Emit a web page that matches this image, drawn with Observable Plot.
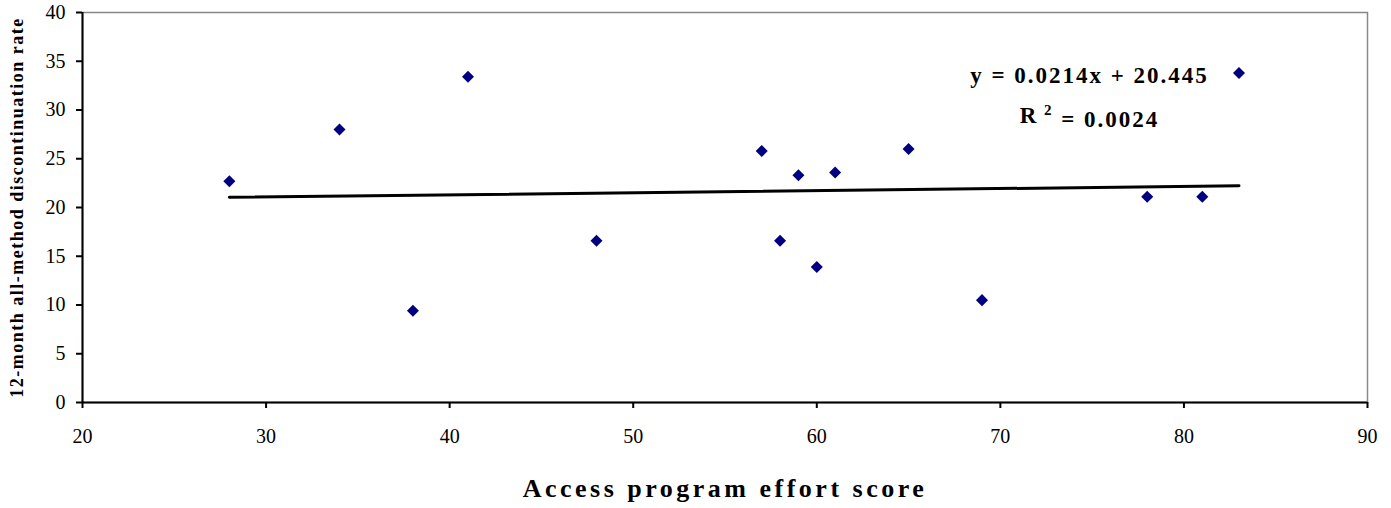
<!DOCTYPE html>
<html>
<head>
<meta charset="utf-8">
<script src="https://cdn.jsdelivr.net/npm/d3@7"></script>
<script src="https://cdn.jsdelivr.net/npm/@observablehq/plot@0.6"></script>
<style>
  html, body { margin: 0; padding: 0; background: #fff; }
  #chart svg { display: block; }
</style>
</head>
<body>
<div id="chart"></div>
<script>
// Data
const effortScore = [28, 34, 38, 41, 48, 57, 58, 59, 60, 61, 65, 69, 78, 81, 83];
const discontinuation = [22.7, 28.0, 9.4, 33.4, 16.6, 25.8, 16.6, 23.3, 13.9, 23.6, 26.0, 10.5, 21.1, 21.1, 33.8];
const trendSlope = 0.0214;
const trendIntercept = 20.445;
const rSquared = 0.0024;
const xTicks = [20, 30, 40, 50, 60, 70, 80, 90];
const yTicks = [0, 5, 10, 15, 20, 25, 30, 35, 40];

const points = effortScore.map((x, i) => ({x, y: discontinuation[i]}));
const xMin = d3.min(effortScore), xMax = d3.max(effortScore);
const trend = [xMin, xMax].map(x => ({x, y: trendSlope * x + trendIntercept}));

const serif = "'Liberation Serif', 'Times New Roman', serif";

const chart = Plot.plot({
  width: 1391,
  height: 508,
  marginLeft: 82,
  marginRight: 24,
  marginTop: 12,
  marginBottom: 106,
  style: {fontFamily: serif, fontSize: "20px", color: "#000", background: "#fff"},
  x: {domain: [20, 90], label: null},
  y: {domain: [0, 40], label: null},
  marks: [
    Plot.frame({stroke: "#888", strokeWidth: 1.5}),
    Plot.ruleY([0], {stroke: "#000", strokeWidth: 2}),
    Plot.ruleX([20], {stroke: "#000", strokeWidth: 2}),
    Plot.axisX({ticks: xTicks, tickSize: 6, tickPadding: 20, stroke: "#000", strokeWidth: 2, fontSize: 20, label: null}),
    Plot.axisY({ticks: yTicks, tickSize: 6, tickPadding: 11, stroke: "#000", strokeWidth: 2, fontSize: 20, label: null}),
    Plot.line(trend, {x: "x", y: "y", stroke: "#000", strokeWidth: 3}),
    Plot.dot(points, {x: "x", y: "y", symbol: "square", r: 4.8, rotate: 45, fill: "#000080", stroke: "none"}),
    Plot.text([`y = ${trendSlope}x + ${trendIntercept}`], {
      frameAnchor: "top-right", dx: -278, dy: 63, textAnchor: "middle", lineAnchor: "middle",
      fontSize: 23, fontWeight: "bold", fill: "#000", className: "eqlabel"
    }),
    Plot.text([`R2 = ${rSquared}`], {
      frameAnchor: "top-right", dx: -278, dy: 103, textAnchor: "middle", lineAnchor: "middle",
      fontSize: 23, fontWeight: "bold", fill: "#000", className: "r2label"
    }),
    Plot.text(["Access program effort score"], {
      frameAnchor: "bottom", dy: 86, textAnchor: "middle", lineAnchor: "middle",
      fontSize: 26, fontWeight: "bold", fill: "#000", className: "xtitle"
    }),
    Plot.text(["12-month all-method discontinuation rate"], {
      frameAnchor: "left", dx: -65, rotate: -90, textAnchor: "middle", lineAnchor: "middle",
      fontSize: 18, fontWeight: "bold", fill: "#000", className: "ytitle"
    })
  ]
});

document.getElementById("chart").appendChild(chart);

const svg = d3.select(chart);
svg.selectAll("g.xtitle text").style("letter-spacing", "3.5px");
svg.selectAll("g.ytitle text").style("letter-spacing", "1.5px");
svg.selectAll("g.eqlabel text").style("letter-spacing", "2px");
svg.selectAll("g.r2label text").style("letter-spacing", "2px").each(function() {
  const t = d3.select(this);
  const txt = t.text();
  t.text(null);
  t.append("tspan").text("R");
  t.append("tspan").attr("dy", "-0.5em").attr("font-size", "15").text(" 2");
  t.append("tspan").attr("dy", "0.5em").text(txt.slice(2));
});
</script>
</body>
</html>
